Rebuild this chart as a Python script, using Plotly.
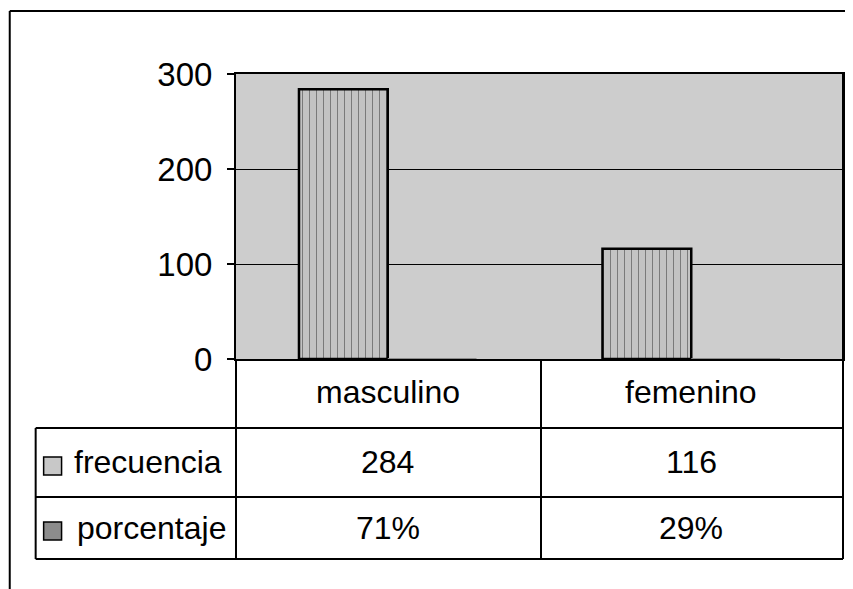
import plotly.graph_objects as go

categories = ["masculino", "femenino"]
frecuencia = [284, 116]
porcentaje = [0.71, 0.29]
row_labels = ["frecuencia", "porcentaje"]
y_ticks = [0, 100, 200, 300]

FONT = "Liberation Sans, Arial, sans-serif"

# page geometry (window pixels); the page body adds an 8px offset
OFF = 8
W, H = 853, 589
L, R, T, B = 236, 845, 74, 359


def px(x):
    return (x - L) / (R - L)


def py(y):
    return (B - y) / (B - T)


fig = go.Figure()
fig.add_trace(
    go.Bar(
        x=categories,
        y=frecuencia,
        name=row_labels[0],
        marker=dict(
            color="#bcbcbc",
            line=dict(color="black", width=2.5),
            pattern=dict(shape="|", fgcolor="#7a7a7a", bgcolor="#c3c3c3",
                         size=7, solidity=0.15, fillmode="replace"),
        ),
    )
)
fig.add_trace(
    go.Bar(
        x=categories,
        y=porcentaje,
        name=row_labels[1],
        marker=dict(color="#8c8c8c", line=dict(width=0)),
    )
)

# data table lines
lines = [
    (L, B, L, 559), (542, B, 542, 559), (R, T, R, 559),
    (35, 428, R, 428), (35, 497, R, 497), (35, 559, R, 559),
    (35, 428, 35, 559),
    (9, 11, W, 11), (9, 11, 9, H),
]
shapes = []
for x0, y0, x1, y1 in lines:
    shapes.append(dict(type="line", xref="paper", yref="paper",
                       x0=px(x0), y0=py(y0), x1=px(x1), y1=py(y1),
                       line=dict(color="black", width=2)))

# legend keys in the table
row_y = [462, 528]
key_y = [466, 531]
key_fill = ["#c8c8c8", "#8c8c8c"]
for yc, fc in zip(key_y, key_fill):
    shapes.append(dict(type="rect", xref="paper", yref="paper",
                       x0=px(43), x1=px(61), y0=py(yc + 9), y1=py(yc - 9),
                       fillcolor=fc, line=dict(color="black", width=1.5)))

annotations = []
cell = dict(showarrow=False, yanchor="middle", font=dict(size=32))
for c in categories:
    annotations.append(dict(x=c, y=py(392), xref="x", yref="paper", text=c,
                            xanchor="center", **cell))
for c, f, p in zip(categories, frecuencia, porcentaje):
    annotations.append(dict(x=c, y=py(row_y[0]), xref="x", yref="paper",
                            text=str(f), xanchor="center", **cell))
    annotations.append(dict(x=c, y=py(row_y[1]), xref="x", yref="paper",
                            text=f"{p:.0%}", xanchor="center", **cell))
for lab, yc, x0 in zip(row_labels, row_y, [71, 74]):
    annotations.append(dict(x=px(x0), y=py(yc), xref="paper", yref="paper",
                            text=lab, xanchor="left", **cell))

fig.update_layout(
    width=W - OFF,
    height=H - OFF,
    margin=dict(l=L - OFF, r=W - R, t=T - OFF, b=H - B, pad=0),
    paper_bgcolor="white",
    plot_bgcolor="#cdcdcd",
    font=dict(family=FONT, color="black", size=32),
    showlegend=False,
    barmode="group",
    bargap=0.415,
    bargroupgap=0,
    xaxis=dict(showticklabels=False, ticks="", showgrid=False,
               showline=True, linecolor="black", linewidth=2, mirror=True),
    yaxis=dict(range=[0, 300], tickvals=y_ticks, ticks="outside", ticklen=7,
               tickwidth=1.5, tickcolor="black", showgrid=True,
               gridcolor="black", gridwidth=1, showline=True,
               linecolor="black", linewidth=2, mirror=True, zeroline=False,
               tickfont=dict(size=33), ticklabelstandoff=8),
    shapes=shapes,
    annotations=annotations,
)

fig.write_html("out.html")
